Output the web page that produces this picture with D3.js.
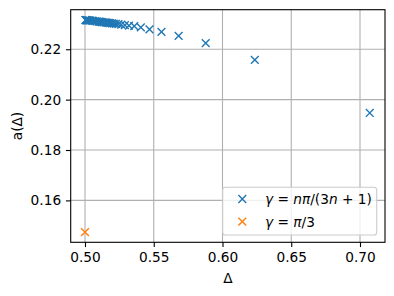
<!DOCTYPE html>
<html><head><meta charset="utf-8">
<script src="https://cdn.jsdelivr.net/npm/d3@7"></script>
<style>body{margin:0;background:#fff}svg{display:block}text{font-family:"DejaVu Sans",sans-serif}</style>
</head><body><svg id="c" width="394" height="296"></svg>
<script>
// Series 1: γ = nπ/(3n+1)
const deltaSeries1 = [0.7071,0.6235,0.5878,0.5681,0.5556,0.5469,0.5406,0.5358,0.5320,0.5290,0.5264,0.5243,0.5225,0.5209,0.5196,0.5184,0.5173,0.5164,0.5156,0.5148,0.5135,0.5124,0.5114,0.5106,0.5099,0.5085,0.5075,0.5060,0.5050,0.5038,0.5030,0.5020,0.5015,0.5010,0.5006,0.5003];
const aSeries1 = [0.1947,0.2158,0.2224,0.2253,0.2269,0.2279,0.2287,0.2292,0.2294,0.2296,0.2298,0.2300,0.2301,0.2302,0.2303,0.2304,0.2305,0.2305,0.2306,0.2307,0.2307,0.2308,0.2309,0.2310,0.2310,0.2311,0.2312,0.2313,0.2314,0.2314,0.2315,0.2315,0.2315,0.2316,0.2316,0.2316];
// Series 2: γ = π/3
const deltaSeries2 = [0.5];
const aSeries2 = [0.1474];
const xTicks = [0.50,0.55,0.60,0.65,0.70];
const yTicks = [0.16,0.18,0.20,0.22];

const svg = d3.select("#c");
const L=70.7,R=385,T=9.7,B=242.3;
const x = d3.scaleLinear().domain([0.4896,0.71818]).range([L,R]);
const y = d3.scaleLinear().domain([0.14336,0.2357]).range([B,T]);
const fs = 13.7;
const grid = "#b0b0b0";

// grid
svg.append("g").selectAll("line").data(xTicks).join("line")
  .attr("x1",d=>x(d)).attr("x2",d=>x(d)).attr("y1",T).attr("y2",B)
  .attr("stroke",grid).attr("stroke-width",1.1);
svg.append("g").selectAll("line").data(yTicks).join("line")
  .attr("y1",d=>y(d)).attr("y2",d=>y(d)).attr("x1",L).attr("x2",R)
  .attr("stroke",grid).attr("stroke-width",1.1);

// axes
const xAxis = d3.axisBottom(x).tickValues(xTicks).tickFormat(d3.format(".2f")).tickSizeInner(4.8).tickSizeOuter(0).tickPadding(4.8);
const yAxis = d3.axisLeft(y).tickValues(yTicks).tickFormat(d3.format(".2f")).tickSizeInner(4.8).tickSizeOuter(0).tickPadding(4.8);
const gx = svg.append("g").attr("transform",`translate(0,${B})`).call(xAxis);
const gy = svg.append("g").attr("transform",`translate(${L},0)`).call(yAxis);
[gx,gy].forEach(g=>{
  g.select(".domain").remove();
  g.selectAll("line").attr("stroke","#000").attr("stroke-width",1.1);
  g.selectAll("text").attr("font-size",fs).attr("fill","#000").style("font-family","DejaVu Sans");
});

function cross(g, pts, color){
  const s=3.9;
  g.selectAll("path").data(pts).join("path")
    .attr("d",d=>{const cx=x(d[0]),cy=y(d[1]);return `M${cx-s},${cy-s}L${cx+s},${cy+s}M${cx-s},${cy+s}L${cx+s},${cy-s}`;})
    .attr("stroke",color).attr("stroke-width",1.4).attr("fill","none");
}
const plot = svg.append("g");
cross(plot.append("g"), deltaSeries1.map((d,i)=>[d,aSeries1[i]]), "#1f77b4");
cross(plot.append("g"), deltaSeries2.map((d,i)=>[d,aSeries2[i]]), "#ff7f0e");

// frame
svg.append("rect").attr("x",L).attr("y",T).attr("width",R-L).attr("height",B-T)
  .attr("fill","none").attr("stroke","#000").attr("stroke-width",1.1);

// labels
svg.append("text").attr("x",(L+R)/2).attr("y",283).attr("text-anchor","middle").attr("font-size",fs).text("Δ");
svg.append("text").attr("transform",`translate(22,${(T+B)/2}) rotate(-90)`).attr("text-anchor","middle").attr("font-size",fs).text("a(Δ)");

// legend
const lg = svg.append("g");
lg.append("rect").attr("x",222.7).attr("y",187.3).attr("width",154).attr("height",47.7).attr("rx",2.8)
  .attr("fill","#fff").attr("fill-opacity",0.8).attr("stroke","#cccccc").attr("stroke-width",1.1);
function lcross(cx,cy,color){
  const s=3.9;
  lg.append("path").attr("d",`M${cx-s},${cy-s}L${cx+s},${cy+s}M${cx-s},${cy+s}L${cx+s},${cy-s}`)
    .attr("stroke",color).attr("stroke-width",1.4).attr("fill","none");
}
lcross(242.3,199,"#1f77b4");
lcross(242.3,221.7,"#ff7f0e");
const t1 = lg.append("text").attr("x",265).attr("y",204).attr("font-size",fs);
t1.append("tspan").attr("font-style","italic").text("γ");
t1.append("tspan").text(" = ");
t1.append("tspan").attr("font-style","italic").text("nπ");
t1.append("tspan").text("/(3");
t1.append("tspan").attr("font-style","italic").text("n");
t1.append("tspan").text(" + 1)");
const t2 = lg.append("text").attr("x",265).attr("y",226.7).attr("font-size",fs);
t2.append("tspan").attr("font-style","italic").text("γ");
t2.append("tspan").text(" = ");
t2.append("tspan").attr("font-style","italic").text("π");
t2.append("tspan").text("/3");
</script></body></html>
